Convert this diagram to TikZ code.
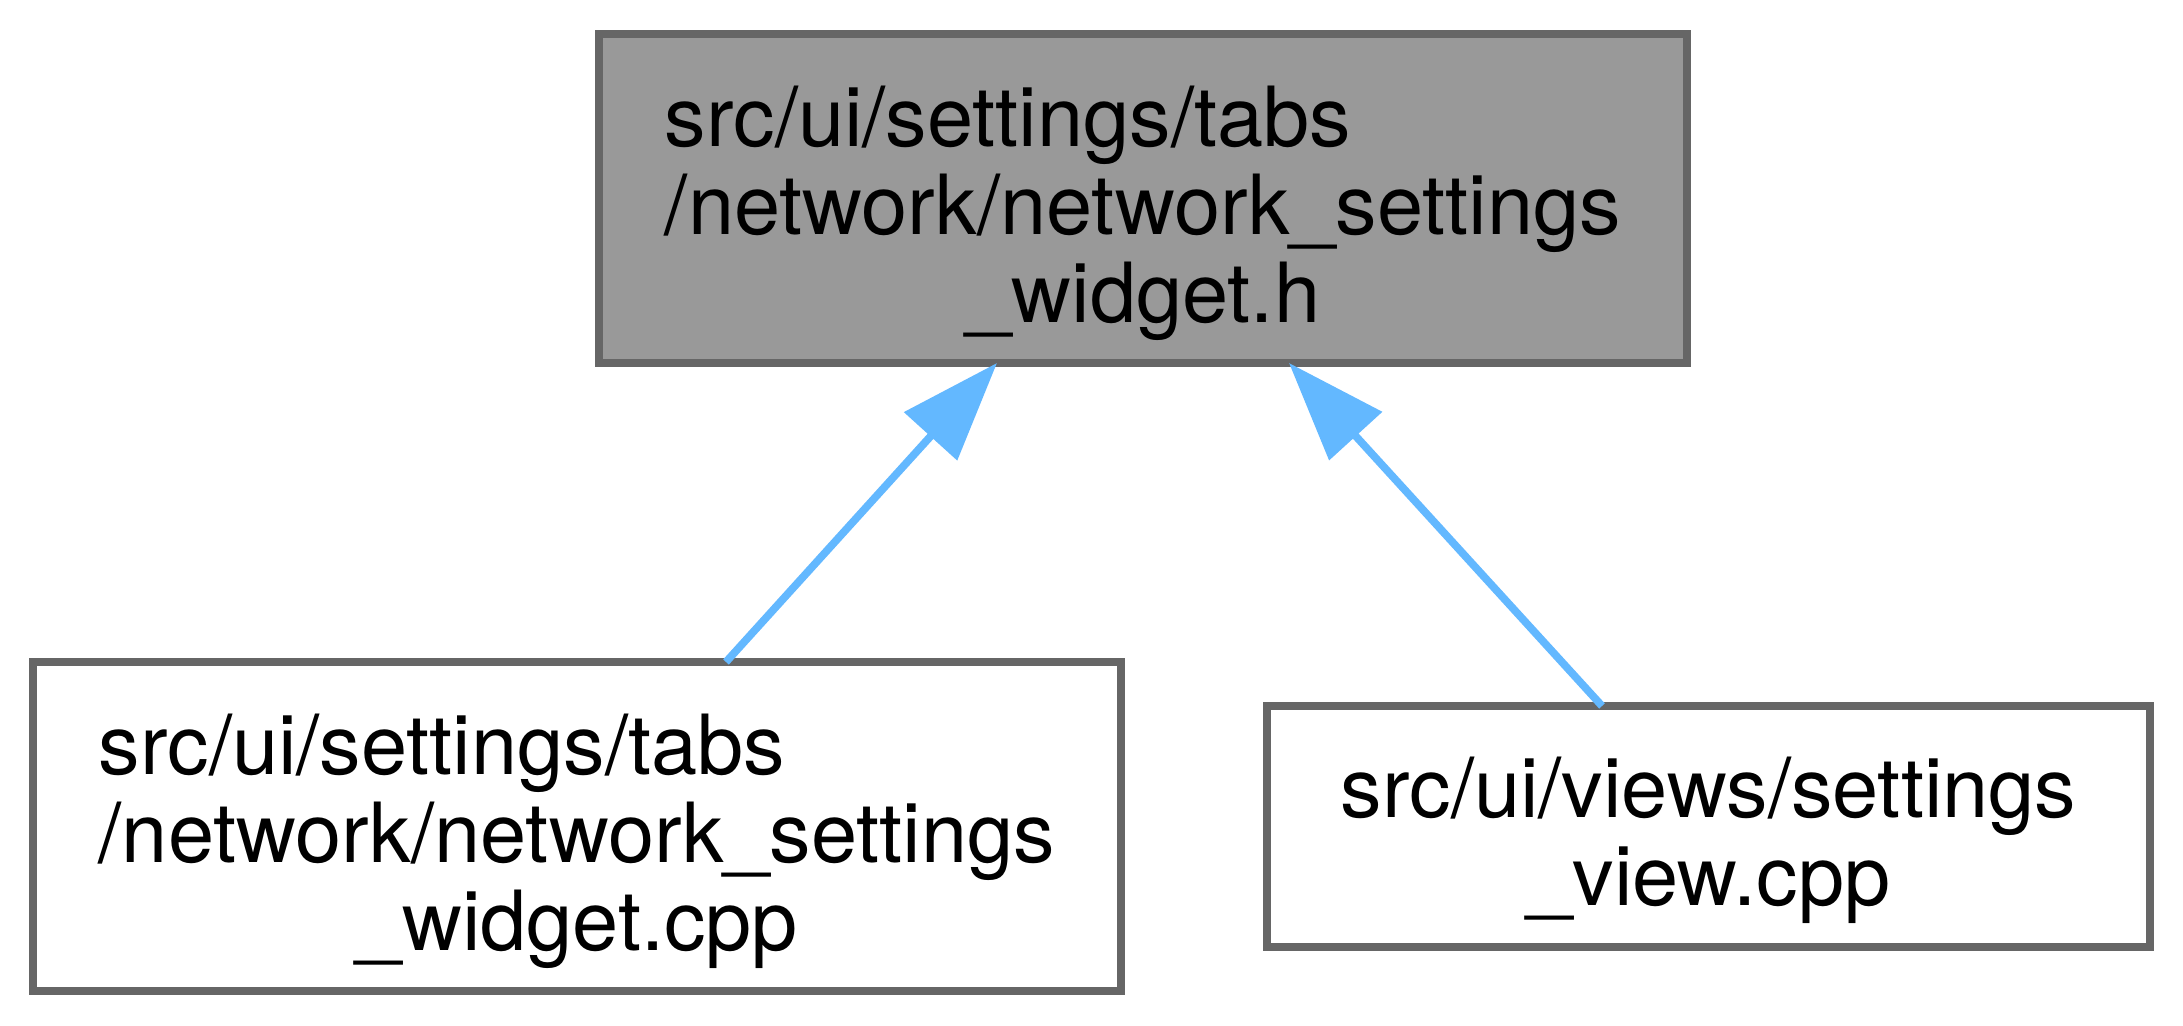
\documentclass[tikz,border=0pt]{standalone}
\usepackage{fontspec}
\setmainfont{TeX Gyre Heros}
\usetikzlibrary{arrows.meta}
\definecolor{edgeblue}{HTML}{63B8FF}
\definecolor{boxborder}{HTML}{666666}
\definecolor{boxfill}{HTML}{999999}
\begin{document}
\begin{tikzpicture}[x=1pt,y=1pt,
  filebox/.style={draw=boxborder, line width=7.7pt, rectangle, inner sep=0pt, outer sep=0pt,
    font=\fontsize{83}{88}\selectfont},
  threeline/.style={filebox, minimum width=1088pt, minimum height=329pt, text height=60pt, text depth=163pt},
  twoline/.style={filebox, minimum width=883pt, minimum height=241pt, text height=60pt, text depth=77pt},
  dep/.style={draw=edgeblue, line width=7.7pt, -{Triangle[length=99pt,width=70pt]}}
]
\useasboundingbox (0,0) rectangle (2183,1025);
\fill[white] (0,0) rectangle (2183,1025);

\node[threeline, fill=boxfill] (top) at (1143,826.5)
  {\begin{tabular}[t]{@{}l@{}}src/ui/settings/tabs\\/network/network\_settings\\\multicolumn{1}{@{}c@{}}{\_widget.h}\end{tabular}};

\node[threeline, fill=white] (bl) at (577,198.5)
  {\begin{tabular}[t]{@{}l@{}}src/ui/settings/tabs\\/network/network\_settings\\\multicolumn{1}{@{}c@{}}{\_widget.cpp}\end{tabular}};

\node[twoline, fill=white] (br) at (1708.5,198.5)
  {\begin{tabular}[t]{@{}c@{}}src/ui/views/settings\\\_view.cpp\end{tabular}};

\draw[dep] ([xshift=149pt]bl.north) -- ([xshift=-146pt]top.south);
\draw[dep] ([xshift=-106.5pt]br.north) -- ([xshift=146pt]top.south);
\end{tikzpicture}
\end{document}
